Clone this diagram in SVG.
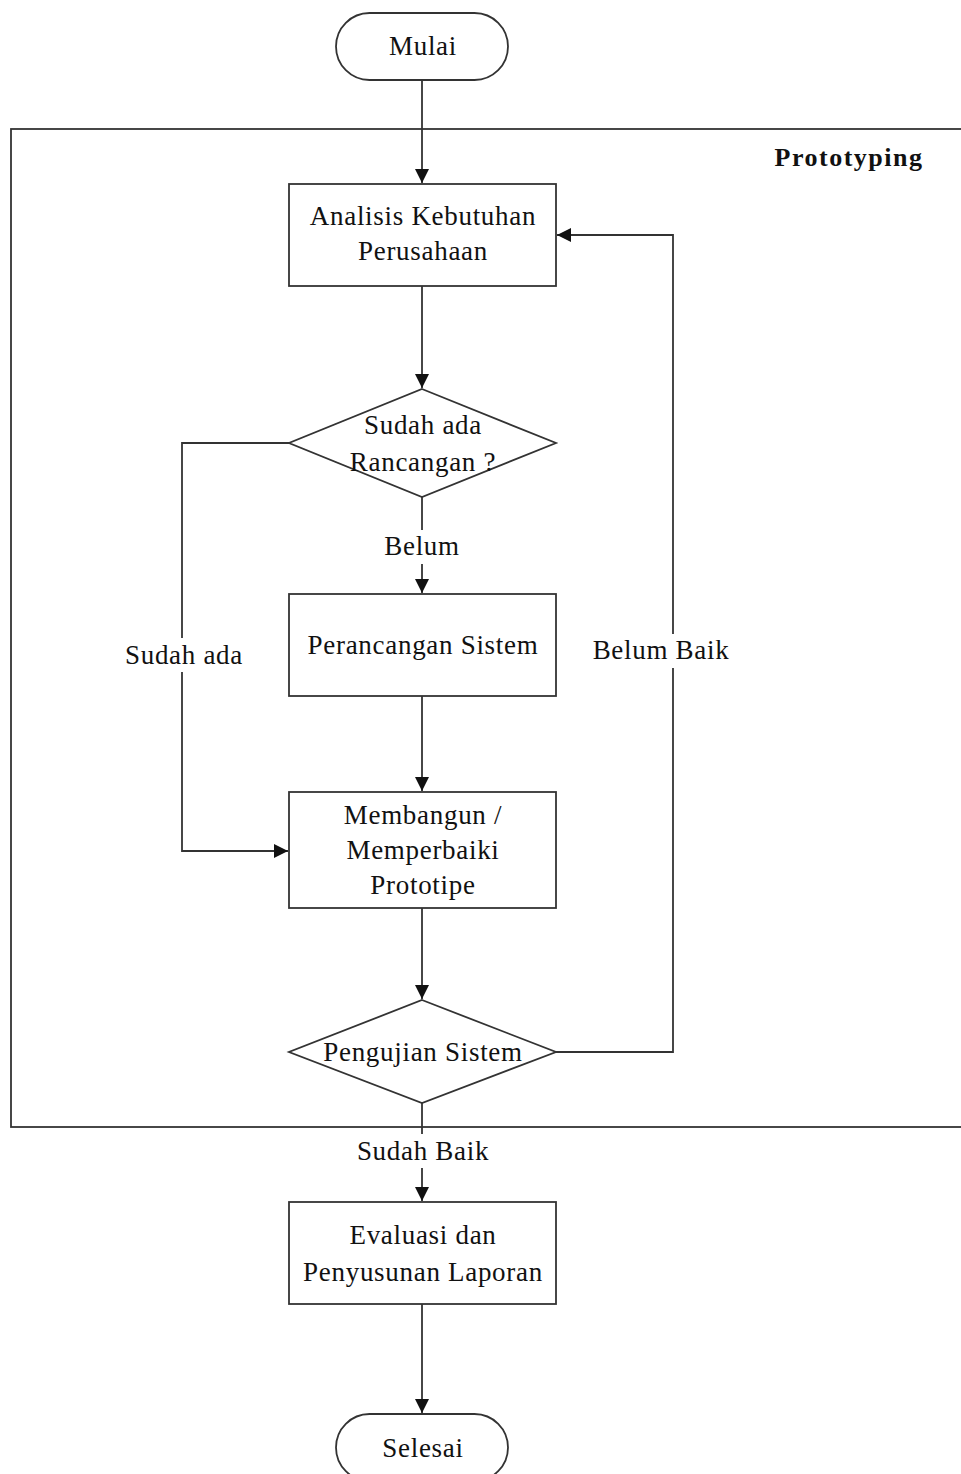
<svg xmlns="http://www.w3.org/2000/svg" width="961" height="1474" viewBox="0 0 961 1474">
<style>
.s{fill:#fff;stroke:#333;stroke-width:1.8}
.c{fill:none;stroke:#333;stroke-width:1.8}
.t{font-family:"Liberation Serif",serif;font-size:27px;letter-spacing:0.7px;fill:#111;text-anchor:middle}
.b{font-family:"Liberation Serif",serif;font-size:26px;letter-spacing:1.5px;font-weight:bold;fill:#111;text-anchor:middle}
.lb{fill:#fff}
</style>
<defs>
<marker id="a" markerWidth="16" markerHeight="16" refX="14" refY="7" orient="auto" markerUnits="userSpaceOnUse" viewBox="0 0 16 14">
<path d="M0,0 L14,7 L0,14 Z" fill="#111"/>
</marker>
</defs>
<rect width="961" height="1474" fill="#fff"/>
<g id="container">
<rect x="11" y="129" width="960" height="998" fill="none" stroke="#333" stroke-width="1.8"/>
<text class="b" x="849" y="166">Prototyping</text>
</g>
<g id="connectors">
<path class="c" d="M422,80 V183" marker-end="url(#a)"/>
<path class="c" d="M422,286 V388" marker-end="url(#a)"/>
<path class="c" d="M422,497 V593" marker-end="url(#a)"/>
<path class="c" d="M422,696 V791" marker-end="url(#a)"/>
<path class="c" d="M422,908 V999" marker-end="url(#a)"/>
<path class="c" d="M422,1103 V1201" marker-end="url(#a)"/>
<path class="c" d="M422,1304 V1413" marker-end="url(#a)"/>
<path class="c" d="M289,443 H182 V851 H288" marker-end="url(#a)"/>
<path class="c" d="M556,1052 H673 V235 H557" marker-end="url(#a)"/>
<rect class="lb" x="374" y="530" width="96" height="34"/>
<text class="t" x="422" y="555">Belum</text>
<rect class="lb" x="116" y="638" width="136" height="34"/>
<text class="t" x="184" y="664">Sudah ada</text>
<rect class="lb" x="584" y="634" width="154" height="34"/>
<text class="t" x="661" y="659">Belum Baik</text>
<rect class="lb" x="348" y="1134" width="148" height="34"/>
<text class="t" x="423" y="1160">Sudah Baik</text>
</g>
<g id="mulai">
<rect class="s" x="336" y="13" width="172" height="67" rx="33.5"/>
<text class="t" x="423" y="55">Mulai</text>
</g>
<g id="analisis">
<rect class="s" x="289" y="184" width="267" height="102"/>
<text class="t" x="423" y="225">Analisis Kebutuhan</text>
<text class="t" x="423" y="260">Perusahaan</text>
</g>
<g id="sudah-ada-rancangan">
<polygon class="s" points="422,389 556,443 422,497 289,443"/>
<text class="t" x="423" y="434">Sudah ada</text>
<text class="t" x="423" y="471">Rancangan ?</text>
</g>
<g id="perancangan">
<rect class="s" x="289" y="594" width="267" height="102"/>
<text class="t" x="423" y="654">Perancangan Sistem</text>
</g>
<g id="membangun">
<rect class="s" x="289" y="792" width="267" height="116"/>
<text class="t" x="423" y="824">Membangun /</text>
<text class="t" x="423" y="859">Memperbaiki</text>
<text class="t" x="423" y="894">Prototipe</text>
</g>
<g id="pengujian">
<polygon class="s" points="422,1000 556,1052 422,1103 289,1052"/>
<text class="t" x="423" y="1061">Pengujian Sistem</text>
</g>
<g id="evaluasi">
<rect class="s" x="289" y="1202" width="267" height="102"/>
<text class="t" x="423" y="1244">Evaluasi dan</text>
<text class="t" x="423" y="1281">Penyusunan Laporan</text>
</g>
<g id="selesai">
<rect class="s" x="336" y="1414" width="172" height="67" rx="33.5"/>
<text class="t" x="423" y="1457">Selesai</text>
</g>
</svg>
